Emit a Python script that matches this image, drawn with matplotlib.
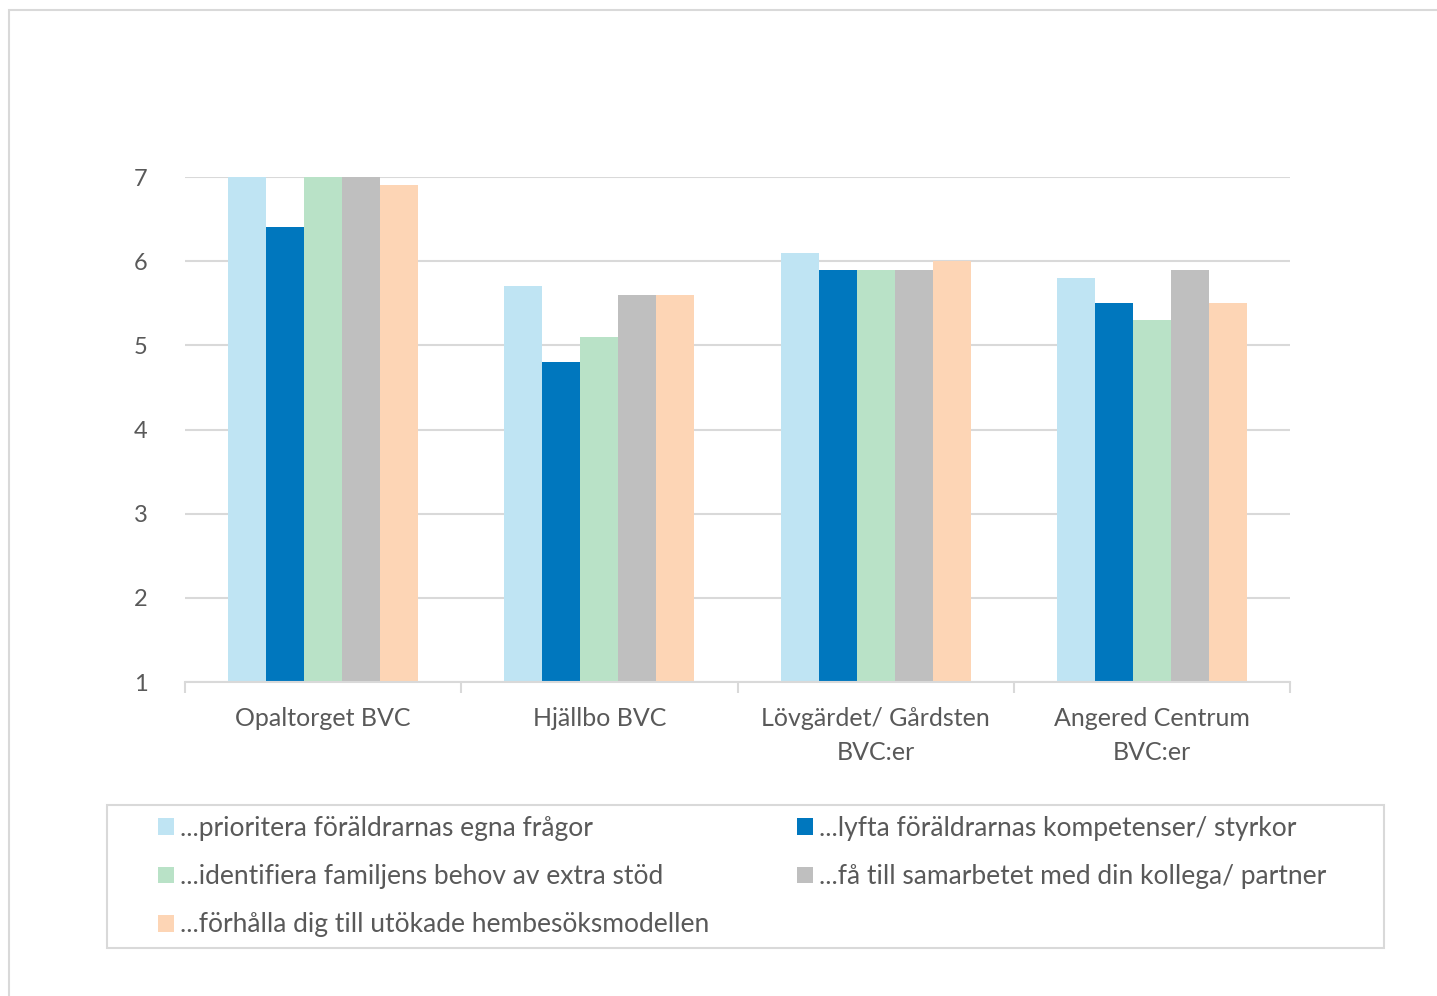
import matplotlib
matplotlib.use('Agg')
import matplotlib.pyplot as plt
from matplotlib.patches import Rectangle
import numpy as np

plt.rcParams['font.family'] = ['Lato', 'DejaVu Sans']

categories = ['Opaltorget BVC', 'Hjällbo BVC', 'Lövgärdet/ Gårdsten\nBVC:er',
              'Angered Centrum\nBVC:er']
series_names = ['...prioritera föräldrarnas egna frågor',
                '...lyfta föräldrarnas kompetenser/ styrkor',
                '...identifiera familjens behov av extra stöd',
                '...få till samarbetet med din kollega/ partner',
                '...förhålla dig till utökade hembesöksmodellen']
prioritera = [7.0, 5.7, 6.1, 5.8]
lyfta = [6.4, 4.8, 5.9, 5.5]
identifiera = [7.0, 5.1, 5.9, 5.3]
samarbete = [7.0, 5.6, 5.9, 5.9]
hembesok = [6.9, 5.6, 6.0, 5.5]
series = [prioritera, lyfta, identifiera, samarbete, hembesok]
colors = ['#BFE4F3', '#0077BE', '#B9E2C7', '#BFBFBF', '#FDD5B5']

txt = '#595959'
grid = '#D9D9D9'

fig = plt.figure(figsize=(14.37, 9.96), dpi=100)
# outer chart frame (cropped at right/bottom)
fig.patches.append(Rectangle((9 / 1437, -0.1), 1.2, (996 - 10) / 996 + 0.1,
                             transform=fig.transFigure, fill=False,
                             edgecolor=grid, linewidth=1.5))
# legend frame
fig.patches.append(Rectangle((107 / 1437, (996 - 948) / 996), 1277 / 1437, 143 / 996,
                             transform=fig.transFigure, fill=False,
                             edgecolor=grid, linewidth=1.5))

ax = fig.add_axes([185 / 1437, (996 - 682) / 996, 1105 / 1437, 505 / 996])

x = np.arange(len(categories))
w = 0.1376
handles = []
for i, vals in enumerate(series):
    vals = np.array(vals)
    b = ax.bar(x + (i - 2) * w, vals - 1, w, bottom=1, color=colors[i],
               label=series_names[i], zorder=3)
    handles.append(b)

ax.set_xlim(-0.5, 3.5)
ax.set_ylim(1, 7)
ax.set_yticks(range(1, 8))
ax.yaxis.grid(True, color=grid, linewidth=1.5, zorder=0)
for s in ['top', 'right', 'left']:
    ax.spines[s].set_visible(False)
ax.spines['bottom'].set_color(grid)
ax.spines['bottom'].set_linewidth(1.5)
ax.spines['bottom'].set_zorder(4)

ax.set_xticks(x)
ax.set_xticklabels(categories, fontsize=18, color=txt, linespacing=1.6)
ax.set_xticks(np.arange(-0.5, 4, 1), minor=True)
ax.tick_params(axis='x', which='major', length=0, pad=18)
ax.tick_params(axis='x', which='minor', length=8, width=1.5, color=grid)
ax.tick_params(axis='y', length=0, pad=27, labelsize=17, labelcolor=txt)

order = [0, 2, 4, 1, 3]
leg = fig.legend([handles[k] for k in order], [series_names[k] for k in order],
                 ncol=2, loc='upper left',
                 bbox_to_anchor=(158 / 1437, 1 - 816 / 996),
                 frameon=False, fontsize=19,
                 handlelength=0.6, handleheight=0.6, handletextpad=0.25,
                 labelspacing=0.88, borderaxespad=0, borderpad=0,
                 columnspacing=3.3, labelcolor=txt)

fig.savefig('out.png', dpi=100, facecolor='white')
